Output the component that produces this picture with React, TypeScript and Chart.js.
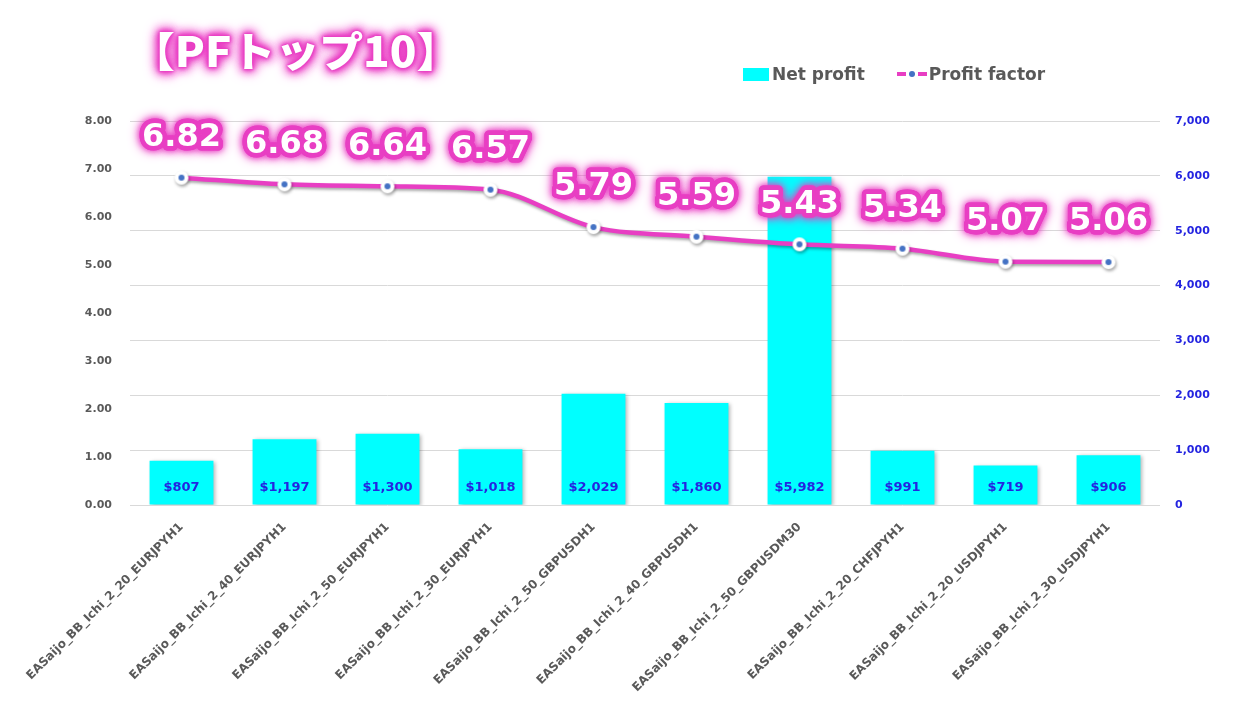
import React, { useEffect, useRef } from "react";
import { Chart, registerables } from "chart.js";

Chart.register(...registerables);

const categories = [
  "EASaijo_BB_Ichi_2_20_EURJPYH1",
  "EASaijo_BB_Ichi_2_40_EURJPYH1",
  "EASaijo_BB_Ichi_2_50_EURJPYH1",
  "EASaijo_BB_Ichi_2_30_EURJPYH1",
  "EASaijo_BB_Ichi_2_50_GBPUSDH1",
  "EASaijo_BB_Ichi_2_40_GBPUSDH1",
  "EASaijo_BB_Ichi_2_50_GBPUSDM30",
  "EASaijo_BB_Ichi_2_20_CHFJPYH1",
  "EASaijo_BB_Ichi_2_20_USDJPYH1",
  "EASaijo_BB_Ichi_2_30_USDJPYH1",
];
const netProfit = [807, 1197, 1300, 1018, 2029, 1860, 5982, 991, 719, 906];
const profitFactor = [6.82, 6.68, 6.64, 6.57, 5.79, 5.59, 5.43, 5.34, 5.07, 5.06];
const leftAxisMax = 8;
const rightAxisMax = 7000;

const PINK = "#E83EC3";
const CYAN = "#00FFFF";
const DOT_BLUE = "#4472C4";
const GRAY = "#595959";
const AXIS_BLUE = "#2424E0";
const FONT = '"DejaVu Sans", Verdana, sans-serif';

function makePointImage() {
  const c = document.createElement("canvas");
  c.width = 20;
  c.height = 20;
  const g = c.getContext("2d")!;
  g.beginPath();
  g.arc(10, 10, 7, 0, Math.PI * 2);
  g.fillStyle = "#ffffff";
  g.fill();
  g.beginPath();
  g.arc(10, 10, 3, 0, Math.PI * 2);
  g.fillStyle = DOT_BLUE;
  g.fill();
  return c;
}

const shadowPlugin = {
  id: "shadowPlugin",
  beforeDatasetDraw(chart: any, args: any) {
    const ctx = chart.ctx;
    ctx.save();
    if (args.meta.type === "bar") {
      ctx.shadowColor = "rgba(0,0,0,0.30)";
      ctx.shadowBlur = 4;
      ctx.shadowOffsetX = 2;
      ctx.shadowOffsetY = 1;
    } else {
      ctx.shadowColor = "rgba(0,0,0,0.35)";
      ctx.shadowBlur = 3;
      ctx.shadowOffsetX = 1;
      ctx.shadowOffsetY = 2;
    }
  },
  afterDatasetDraw(chart: any) {
    chart.ctx.restore();
  },
};

const labelPlugin = {
  id: "labelPlugin",
  afterDatasetsDraw(chart: any) {
    const ctx = chart.ctx;
    const barMeta = chart.getDatasetMeta(0);
    const lineMeta = chart.getDatasetMeta(1);
    ctx.save();
    // bar labels
    ctx.font = `bold 13px ${FONT}`;
    ctx.fillStyle = AXIS_BLUE;
    ctx.textAlign = "center";
    ctx.textBaseline = "middle";
    barMeta.data.forEach((bar: any, i: number) => {
      ctx.fillText("$" + netProfit[i].toLocaleString("en-US"), bar.x, bar.base - 17);
    });
    // line labels with glow
    ctx.font = `bold 32px ${FONT}`;
    ctx.lineJoin = "round";
    lineMeta.data.forEach((pt: any, i: number) => {
      const txt = profitFactor[i].toFixed(2);
      const x = pt.x;
      const y = pt.y - 40;
      ctx.shadowColor = PINK;
      ctx.shadowBlur = 12;
      ctx.strokeStyle = PINK;
      ctx.lineWidth = 9;
      ctx.strokeText(txt, x, y);
      ctx.shadowBlur = 6;
      ctx.strokeText(txt, x, y);
      ctx.shadowBlur = 0;
      ctx.fillStyle = "#ffffff";
      ctx.fillText(txt, x, y);
    });
    ctx.restore();
  },
};

export default function App() {
  const canvasRef = useRef<HTMLCanvasElement>(null);

  useEffect(() => {
    const pointImg = makePointImage();
    const chart = new Chart(canvasRef.current!, {
      type: "bar",
      data: {
        labels: categories,
        datasets: [
          {
            type: "bar",
            label: "Net profit",
            data: netProfit,
            backgroundColor: CYAN,
            yAxisID: "y1",
            barPercentage: 0.62,
            categoryPercentage: 1,
            order: 2,
          },
          {
            type: "line",
            label: "Profit factor",
            data: profitFactor,
            borderColor: PINK,
            borderWidth: 4.5,
            cubicInterpolationMode: "monotone",
            pointStyle: pointImg as any,
            pointRadius: 7,
            yAxisID: "y",
            order: 1,
          },
        ],
      },
      options: {
        responsive: true,
        maintainAspectRatio: false,
        animation: false,
        layout: { padding: { top: 121, left: 0, right: 0, bottom: 0 } },
        plugins: {
          legend: { display: false },
          tooltip: { enabled: false },
        },
        scales: {
          x: {
            grid: { display: false, drawTicks: false },
            border: { display: false },
            ticks: {
              minRotation: 45,
              maxRotation: 45,
              autoSkip: false,
              padding: 15,
              color: GRAY,
              font: { family: FONT, size: 12, weight: "bold" },
            },
            afterFit(scale: any) {
              scale.height = 200;
            },
          },
          y: {
            position: "left",
            min: 0,
            max: leftAxisMax,
            grid: { display: false, drawTicks: false },
            border: { display: false },
            ticks: {
              stepSize: 1,
              padding: 18,
              color: GRAY,
              font: { family: FONT, size: 11, weight: "bold" },
              callback: (v: any) => Number(v).toFixed(2),
            },
            afterFit(scale: any) {
              scale.width = 130;
            },
          },
          y1: {
            position: "right",
            min: 0,
            max: rightAxisMax,
            grid: { display: true, drawTicks: false, color: "#D9D9D9", lineWidth: 1 },
            border: { display: false },
            ticks: {
              stepSize: 1000,
              padding: 15,
              color: AXIS_BLUE,
              font: { family: FONT, size: 11, weight: "bold" },
              callback: (v: any) => Number(v).toLocaleString("en-US"),
            },
            afterFit(scale: any) {
              scale.width = 83;
            },
          },
        },
      },
      plugins: [shadowPlugin, labelPlugin],
    });
    return () => chart.destroy();
  }, []);

  const glow =
    "0 0 2px #E83EC3, 0 0 3px #E83EC3, 0 0 4px #E83EC3, 0 0 6px #E83EC3, 0 0 8px #E83EC3, 0 0 10px #E83EC3, 0 0 12px #E83EC3, 0 0 14px #E83EC3";

  return (
    <div
      style={{
        position: "fixed",
        left: 0,
        top: 0,
        width: 1243,
        height: 705,
        background: "#ffffff",
        overflow: "hidden",
      }}
    >
      <canvas ref={canvasRef} style={{ position: "absolute", left: 0, top: 0 }} />
      <div
        style={{
          position: "absolute",
          left: 131,
          top: 21,
          fontFamily: '"Noto Sans CJK JP", sans-serif',
          fontWeight: 900,
          fontSize: 41,
          lineHeight: "56px",
          color: "#ffffff",
          textShadow: glow,
          whiteSpace: "nowrap",
          transform: "scaleX(1.07)",
          transformOrigin: "left center",
        }}
      >
        【PFトップ10】
      </div>
      <div
        style={{
          position: "absolute",
          left: 743,
          top: 62,
          height: 24,
          display: "flex",
          alignItems: "center",
          fontFamily: FONT,
          fontWeight: "bold",
          fontSize: 17,
          color: GRAY,
          whiteSpace: "nowrap",
        }}
      >
        <span style={{ display: "inline-block", width: 26, height: 13, background: CYAN, marginRight: 3 }} />
        <span>Net profit</span>
        <span style={{ display: "inline-block", width: 32 }} />
        <span style={{ position: "relative", display: "inline-block", width: 31, height: 12, marginRight: 1 }}>
          <span style={{ position: "absolute", left: 0, top: 4, width: 9, height: 4, background: PINK }} />
          <span
            style={{
              position: "absolute",
              left: 12,
              top: 3,
              width: 6,
              height: 6,
              borderRadius: 3,
              background: DOT_BLUE,
            }}
          />
          <span style={{ position: "absolute", left: 21, top: 4, width: 9, height: 4, background: PINK }} />
        </span>
        <span>Profit factor</span>
      </div>
    </div>
  );
}
